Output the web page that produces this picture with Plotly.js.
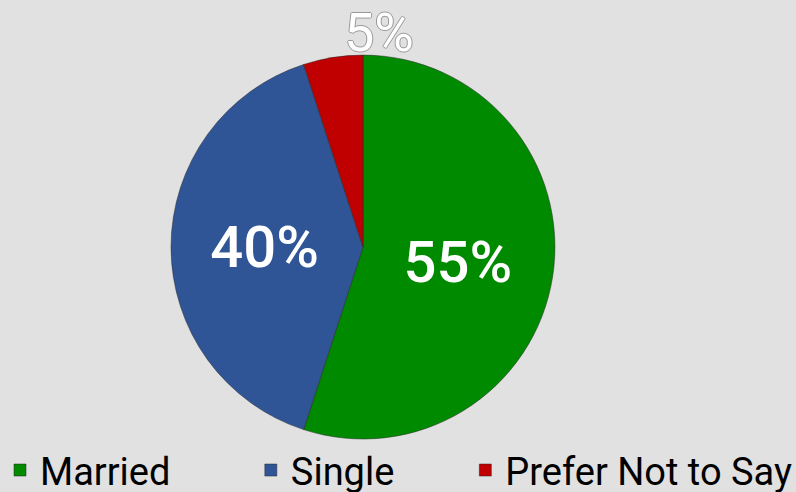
<!DOCTYPE html>
<html>
<head>
<meta charset="utf-8">
<script src="https://cdn.plot.ly/plotly-3.0.1.min.js"></script>
<style>html,body{margin:0;padding:0;background:#e1e1e1;}#chart{width:796px;height:492px;}</style>
</head>
<body>
<div id="chart"></div>
<script>
const categories = ["Married", "Single", "Prefer Not to Say"];
const values = [55, 40, 5];
const colors = ["#008a00", "#2f5597", "#c00000"];
const labelPositions = ["inside", "inside", "none"];

// trailing non-breaking spaces widen the gap between legend entries
const legendPad = [8, 7, 0];
const legendLabels = categories.map((c, i) => c + "\u00a0".repeat(legendPad[i]));

const outline = "#9a9a9a 1px 0 0, #9a9a9a -1px 0 0, #9a9a9a 0 1px 0, #9a9a9a 0 -1px 0";

const trace = {
  type: "pie",
  labels: legendLabels,
  values: values,
  sort: false,
  direction: "clockwise",
  rotation: 0,
  textinfo: "percent",
  texttemplate: "%{value}%",
  textposition: labelPositions,
  insidetextorientation: "horizontal",
  automargin: false,
  marker: { colors: colors, line: { color: "rgba(40,40,40,0.5)", width: 1 } },
  insidetextfont: { family: "Roboto, sans-serif", size: 58, weight: 500, color: "#ffffff" },
  domain: { x: [0.2148, 0.6972], y: [0.1077, 0.888] },
  hoverinfo: "label+percent"
};

const layout = {
  width: 796, height: 492,
  margin: { l: 0, r: 0, t: 0, b: 0, autoexpand: false },
  paper_bgcolor: "#e1e1e1",
  plot_bgcolor: "#e1e1e1",
  showlegend: true,
  legend: {
    orientation: "h",
    x: 0.0, xanchor: "left",
    y: -0.02, yanchor: "bottom",
    font: { family: "Roboto, sans-serif", size: 38, color: "#000000" },
    itemwidth: 30,
    bgcolor: "rgba(0,0,0,0)"
  },
  annotations: [{
    xref: "paper", yref: "paper",
    x: 0.476, y: 0.933, xanchor: "center", yanchor: "middle",
    text: values[2] + "%",
    showarrow: false,
    font: { family: "Roboto, sans-serif", size: 54, color: "#ffffff", shadow: outline }
  }]
};

Plotly.newPlot("chart", [trace], layout, { displayModeBar: false, staticPlot: true });
</script>
</body>
</html>
